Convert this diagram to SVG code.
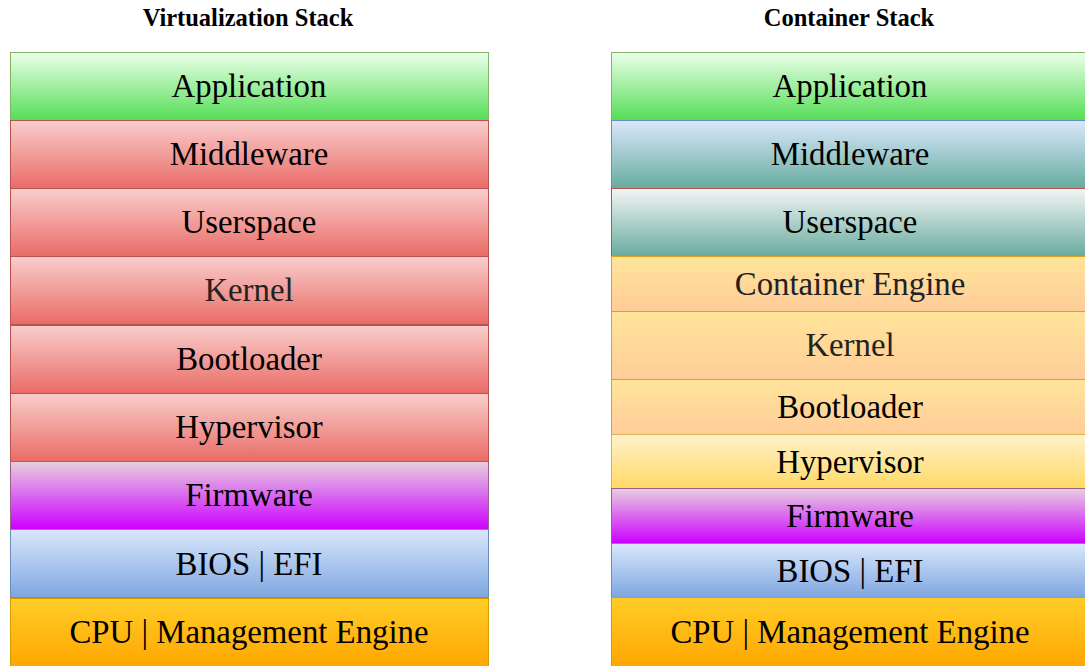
<svg xmlns="http://www.w3.org/2000/svg" width="1085" height="666" viewBox="0 0 1085 666">
  <defs>
    <linearGradient id="g-green" x1="0" y1="0" x2="0" y2="1">
      <stop offset="0" stop-color="#ebffeb"/>
      <stop offset="1" stop-color="#55dd55"/>
    </linearGradient>
    <linearGradient id="g-red" x1="0" y1="0" x2="0" y2="1">
      <stop offset="0" stop-color="#f8cecc"/>
      <stop offset="1" stop-color="#ea6b66"/>
    </linearGradient>
    <linearGradient id="g-purple" x1="0" y1="0" x2="0" y2="1">
      <stop offset="0" stop-color="#e6d0de"/>
      <stop offset="1" stop-color="#cc00ff"/>
    </linearGradient>
    <linearGradient id="g-blue" x1="0" y1="0" x2="0" y2="1">
      <stop offset="0" stop-color="#dae8fc"/>
      <stop offset="1" stop-color="#7ea6e0"/>
    </linearGradient>
    <linearGradient id="g-orange" x1="0" y1="0" x2="0" y2="1">
      <stop offset="0" stop-color="#ffcd28"/>
      <stop offset="1" stop-color="#ffa500"/>
    </linearGradient>
    <linearGradient id="g-teal-blue" x1="0" y1="0" x2="0" y2="1">
      <stop offset="0" stop-color="#dae8fc"/>
      <stop offset="1" stop-color="#67ab9f"/>
    </linearGradient>
    <linearGradient id="g-teal-white" x1="0" y1="0" x2="0" y2="1">
      <stop offset="0" stop-color="#f5f5f5"/>
      <stop offset="1" stop-color="#67ab9f"/>
    </linearGradient>
    <linearGradient id="g-peach" x1="0" y1="0" x2="0" y2="1">
      <stop offset="0" stop-color="#ffe599"/>
      <stop offset="1" stop-color="#ffcc99"/>
    </linearGradient>
    <linearGradient id="g-yellow" x1="0" y1="0" x2="0" y2="1">
      <stop offset="0" stop-color="#fff2cc"/>
      <stop offset="1" stop-color="#ffd966"/>
    </linearGradient>
  </defs>
  <style>
    .title { font-family: "Liberation Serif", "Times New Roman", serif; font-size: 24.5px; font-weight: bold; fill: #000; text-anchor: middle; }
    .label { font-family: "Liberation Serif", "Times New Roman", serif; font-size: 32.8px; fill: #000; text-anchor: middle; }
    .dim { fill: #222222; }
    .green  { fill: url(#g-green);  stroke: #82b366; }
    .red    { fill: url(#g-red);    stroke: #b85450; }
    .purple { fill: url(#g-purple); stroke: #996185; }
    .blue   { fill: url(#g-blue);   stroke: #6c8ebf; }
    .orange { fill: url(#g-orange); stroke: #d79b00; }
    .tealb  { fill: url(#g-teal-blue);  stroke: #6c8ebf; }
    .tealw  { fill: url(#g-teal-white); stroke: #b85450; }
    .peach  { fill: url(#g-peach);  stroke: #e0a020; }
    .yellow { fill: url(#g-yellow); stroke: #d6b656; }
    rect { stroke-width: 1; }
  </style>

  <rect width="1085" height="666" fill="#ffffff"/>

  <!-- column headings -->
  <text class="title" x="248" y="26">Virtualization Stack</text>
  <text class="title" x="849" y="26">Container Stack</text>

  <!-- virtualization stack -->
  <g id="v-application"><rect class="green" x="10.5" y="52.5" width="478" height="68"/><text class="label" x="249" y="97">Application</text></g>
  <g id="v-middleware"><rect class="red" x="10.5" y="120.5" width="478" height="68"/><text class="label" x="249" y="165">Middleware</text></g>
  <g id="v-userspace"><rect class="red" x="10.5" y="188.5" width="478" height="68"/><text class="label" x="249" y="233">Userspace</text></g>
  <g id="v-kernel"><rect class="red" x="10.5" y="256.5" width="478" height="68"/><text class="label dim" x="249" y="301">Kernel</text></g>
  <g id="v-bootloader"><rect class="red" x="10.5" y="325.5" width="478" height="68"/><text class="label" x="249" y="370">Bootloader</text></g>
  <g id="v-hypervisor"><rect class="red" x="10.5" y="393.5" width="478" height="68"/><text class="label" x="249" y="438">Hypervisor</text></g>
  <g id="v-firmware"><rect class="purple" x="10.5" y="461.5" width="478" height="68"/><text class="label" x="249" y="506">Firmware</text></g>
  <g id="v-bios"><rect class="blue" x="10.5" y="529.5" width="478" height="68"/><text class="label" x="249" y="575">BIOS | EFI</text></g>
  <g id="v-cpu"><rect class="orange" x="10.5" y="598.5" width="478" height="70"/><text class="label" x="249" y="643">CPU | Management Engine</text></g>

  <!-- container stack -->
  <g id="c-application"><rect class="green" x="611.5" y="52.5" width="478" height="68"/><text class="label" x="850" y="97">Application</text></g>
  <g id="c-middleware"><rect class="tealb" x="611.5" y="120.5" width="478" height="68"/><text class="label" x="850" y="165">Middleware</text></g>
  <g id="c-userspace"><rect class="tealw" x="611.5" y="188.5" width="478" height="68"/><text class="label" x="850" y="233">Userspace</text></g>
  <g id="c-engine"><rect class="peach" x="611.5" y="256.5" width="478" height="55"/><text class="label dim" x="850" y="295">Container Engine</text></g>
  <g id="c-kernel"><rect class="peach" x="611.5" y="311.5" width="478" height="68"/><text class="label dim" x="850" y="356">Kernel</text></g>
  <g id="c-bootloader"><rect class="peach" x="611.5" y="379.5" width="478" height="55"/><text class="label" x="850" y="418">Bootloader</text></g>
  <g id="c-hypervisor"><rect class="yellow" x="611.5" y="434.5" width="478" height="54"/><text class="label" x="850" y="473">Hypervisor</text></g>
  <g id="c-firmware"><rect class="purple" x="611.5" y="488.5" width="478" height="55"/><text class="label" x="850" y="527">Firmware</text></g>
  <g id="c-bios"><rect class="blue" x="611.5" y="543.5" width="478" height="54"/><text class="label" x="850" y="582">BIOS | EFI</text></g>
  <g id="c-cpu"><rect class="orange" x="611.5" y="597.5" width="478" height="71"/><text class="label" x="850" y="643">CPU | Management Engine</text></g>

  <!-- no connectors in this figure -->
  <g id="connectors"/>
</svg>
